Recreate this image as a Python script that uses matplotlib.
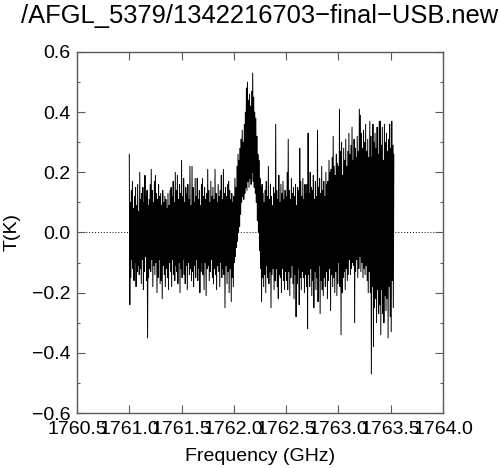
import numpy as np
import matplotlib
matplotlib.use("Agg")
import matplotlib.pyplot as plt
from matplotlib.ticker import MultipleLocator

plt.rcParams['font.family'] = ['Liberation Sans', 'DejaVu Sans']

title = "/AFGL_5379/1342216703\u2212final\u2212USB.new"
x_label = "Frequency (GHz)"
y_label = "T(K)"

freq_start = 1761.000   # GHz, first channel
freq_step = 0.005       # GHz per channel

# antenna temperature per channel, in units of 0.01 K
t_centi_K = [
    26, -24, 10, -15, 14, -9, 17, -12, 8, -16,
    12, -10, 15, -18, 9, -13, 16, -11, 7, -14,
    20, -12, 11, -17, 13, -9, 15, -19, 10, -13,
    19, -8, 12, -16, 14, -35, 9, -15, 11, -12,
    16, -13, 21, -9, 14, -18, 10, -11, 17, -14,
    19, -10, 13, -20, 11, -15, 16, -9, 12, -17,
    13, -16, 9, -22, 14, -11, 10, -14, 12, -18,
    11, -12, 8, -15, 13, -19, 9, -10, 14, -13,
    15, -18, 12, -9, 17, -14, 10, -16, 20, -11,
    14, -13, 19, -17, 11, -10, 16, -20, 13, -12,
    24, -15, 12, -9, 18, -14, 10, -17, 15, -11,
    13, -19, 16, -10, 11, -14, 22, -12, 9, -16,
    22, -13, 15, -18, 10, -11, 18, -15, 12, -9,
    18, -16, 11, -12, 14, -20, 9, -13, 16, -10,
    18, -14, 12, -19, 15, -10, 11, -21, 13, -12,
    21, -11, 14, -16, 10, -13, 17, -9, 12, -15,
    15, -17, 11, -12, 21, -14, 13, -19, 10, -11,
    16, -13, 12, -18, 14, -10, 19, -15, 11, -12,
    21, -14, 13, -25, 15, -11, 12, -17, 16, -13,
    17, -20, 14, -12, 11, -23, 13, -15, 10, -18,
    12, -10, 18, -8, 15, -5, 22, -3, 26, 0,
    24, 2, 28, 6, 31, 10, 34, 12, 30, 11,
    36, 13, 40, 15, 48, 14, 50, 17, 44, 15,
    46, 18, 42, 16, 47, 20, 53, 17, 45, 15,
    40, 13, 38, 10, 32, 4, 26, 0, 24, -6,
    18, -12, 15, -23, 16, -15, 13, -18, 10, -14,
    14, -20, 17, -11, 12, -15, 22, -17, 11, -13,
    16, -25, 12, -14, 9, -12, 15, -19, 13, -16,
    36, -12, 14, -18, 11, -22, 19, -14, 10, -15,
    16, -20, 13, -12, 17, -16, 11, -19, 14, -13,
    12, -16, 20, -19, 31, -13, 14, -21, 11, -15,
    18, -11, 13, -17, 15, -22, 12, -14, 16, -28,
    9, -17, 15, -12, 14, -24, 28, -15, 17, -19,
    12, -13, 18, -15, 11, -20, 16, -14, 13, -18,
    16, -32, 33, -14, 13, -18, 20, -12, 15, -21,
    14, -16, 19, -25, 11, -13, 17, -19, 12, -15,
    34, -23, 15, -11, 18, -27, 13, -16, 22, -19,
    14, -21, 17, -15, 12, -18, 20, -13, 16, -22,
    17, -16, 24, -12, 20, -26, 21, -14, 25, -18,
    32, -15, 22, -20, 19, -13, 26, -21, 23, -17,
    22, -10, 41, -18, 27, -34, 30, -20, 19, -15,
    28, -13, 24, -19, 31, -12, 22, -16, 27, -14,
    33, -9, 26, -14, 29, -12, 35, -10, 24, -11,
    31, -30, 28, -13, 25, -9, 32, -15, 27, -12,
    41, -8, 39, -13, 33, -10, 28, -15, 34, -12,
    30, -14, 36, -11, 27, -16, 31, -20, 25, -13,
    37, -20, 32, -47, 25, -18, 36, -38, 30, -25,
    33, -22, 28, -30, 35, -19, 26, -27, 37, -24,
    37, -34, 29, -19, 35, -27, 24, -30, 36, -21,
    30, -26, 33, -22, 27, -35, 31, -18, 36, -28,
    28, -33, 37, -16, 29, -25, 26,
]

x_ticks = [1760.5, 1761.0, 1761.5, 1762.0, 1762.5, 1763.0, 1763.5, 1764.0]
y_ticks = [-0.6, -0.4, -0.2, 0.0, 0.2, 0.4, 0.6]

temps = np.array(t_centi_K) / 100.0
freqs = freq_start + freq_step * np.arange(len(temps))

fig = plt.figure(figsize=(5.0, 4.68), dpi=100)
ax = fig.add_axes([77/500, 1 - 413/468, (443-77)/500, (413-52)/468])

ax.axhline(0.0, color='black', lw=0.7, ls=(0, (1, 2)), zorder=1)
ax.plot(freqs, temps, color='black', lw=0.7, zorder=2)

ax.set_xlim(1760.5, 1764.0)
ax.set_ylim(-0.6, 0.6)
ax.set_xticks(x_ticks)
ax.set_xticklabels([f"{v:.1f}" for v in x_ticks])
ax.set_yticks(y_ticks)
ax.set_yticklabels([f"{v:.1f}".replace('-', '\u2212') for v in y_ticks])
ax.yaxis.set_minor_locator(MultipleLocator(0.1))

spine_col = '#5a5a5a'
for s in ax.spines.values():
    s.set_color(spine_col)
    s.set_linewidth(1.0)
ax.tick_params(which='both', direction='in', top=True, right=True, color=spine_col)
ax.tick_params(which='major', length=5.5, width=0.8)
ax.tick_params(which='minor', length=2.5, width=0.8)
ax.tick_params(axis='x', labelsize=14, pad=6)
ax.tick_params(axis='y', labelsize=14, pad=4.5)

ax.set_xlabel(x_label, fontsize=14, labelpad=7)
ax.set_ylabel(y_label, fontsize=14, labelpad=8)

fig.text(260/500, 1 - 23/468, title, ha='center', va='baseline', fontsize=18.4)

fig.savefig("out.png", dpi=100)
